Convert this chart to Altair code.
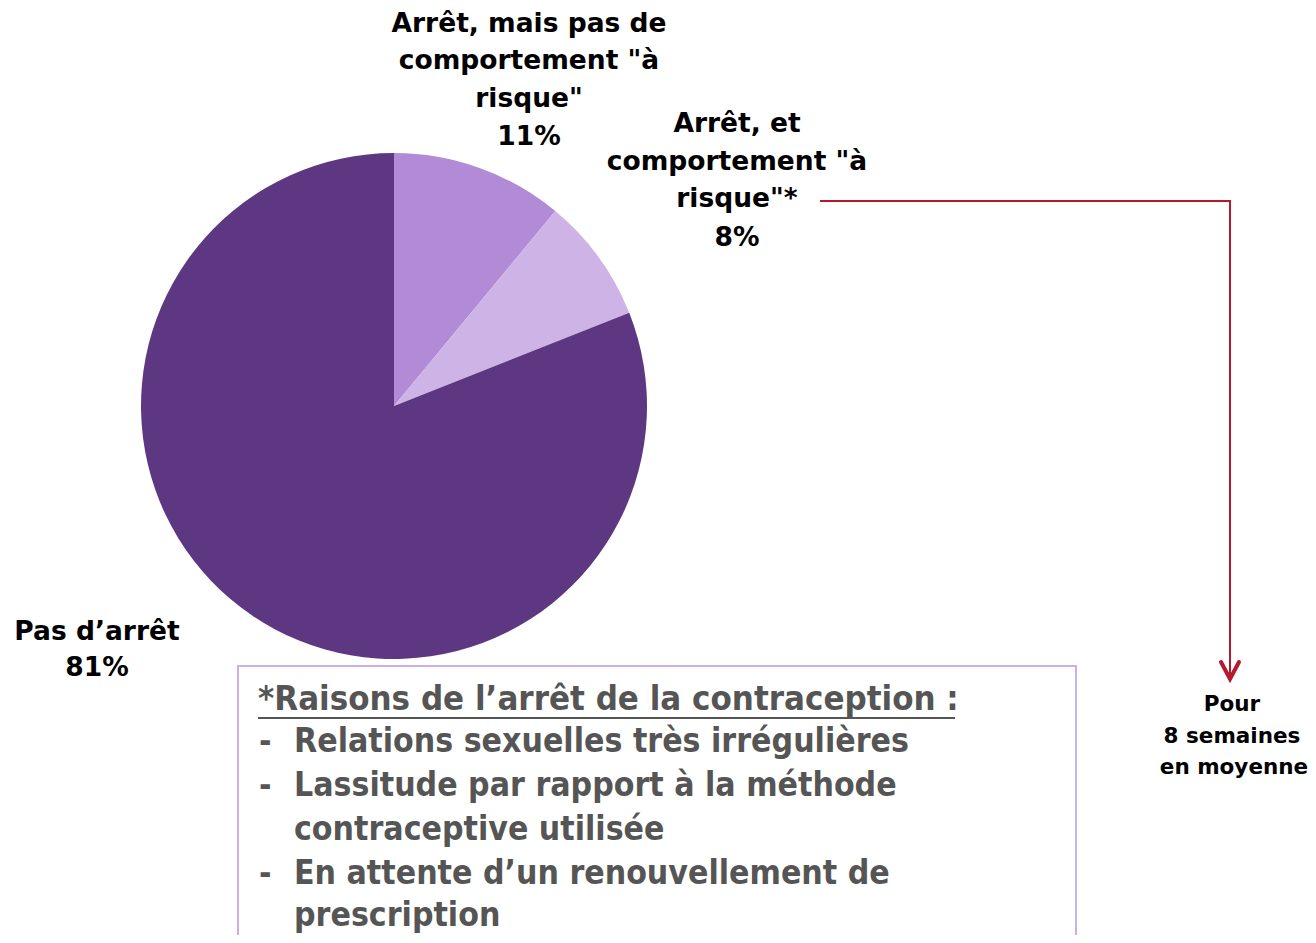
import altair as alt
import pandas as pd

# ---- data ----
categories = ["Arrêt, mais pas de comportement \"à risque\"", "Arrêt, et comportement \"à risque\"*", "Pas d'arrêt"]
values = [11, 8, 81]
colors = ["#B28BD7", "#CDB3E6", "#5E3782"]

pie_label_lines = ["Arrêt, mais pas de", "comportement \"à", "risque\"", "11%",
                   "Arrêt, et", "comportement \"à", "risque\"*", "8%",
                   "Pas d\u2019arrêt", "81%"]
pie_label_x = [529, 529, 529, 529, 737, 737, 737, 737, 97, 97]
pie_label_y = [24, 61, 99, 137, 124, 162, 199, 238, 632, 668]

note_lines = ["Pour", "8 semaines", "en moyenne"]
note_x = [1232, 1232, 1234]
note_y = [705, 737, 768]

box_title = "*Raisons de l\u2019arrêt de la contraception :"
box_lines = ["Relations sexuelles très irrégulières",
             "Lassitude par rapport à la méthode",
             "contraceptive utilisée",
             "En attente d\u2019un renouvellement de",
             "prescription"]
box_line_y = [742, 786, 830, 874, 916]
box_dash = ["-", "-", "", "-", ""]

connector_x = [820, 1230, 1230]
connector_y = [201, 201, 678]
chevron_x = [1221, 1230, 1239]
chevron_y = [662, 679, 662]

W, H = 1300, 927
xs = alt.Scale(domain=[8, 8 + W], nice=False, zero=False)
ys = alt.Scale(domain=[8 + H, 8], nice=False, zero=False)

pie_df = pd.DataFrame({"cat": categories, "val": values, "order": [0, 1, 2]})
pie = alt.Chart(pie_df).mark_arc(radius=253).encode(
    theta=alt.Theta("val:Q", stack=True),
    order=alt.Order("order:Q"),
    color=alt.Color("cat:N", scale=alt.Scale(domain=categories, range=colors), legend=None),
    x=alt.value(394 - 8),
    y=alt.value(406 - 8),
)

lbl_df = pd.DataFrame({"t": pie_label_lines, "x": pie_label_x, "y": pie_label_y})
labels = alt.Chart(lbl_df).mark_text(
    font="DejaVu Sans", fontWeight="bold", fontSize=26.5, color="#000000",
    align="center", baseline="middle"
).encode(x=alt.X("x:Q", scale=xs, axis=None), y=alt.Y("y:Q", scale=ys, axis=None), text="t:N")

note_df = pd.DataFrame({"t": note_lines, "x": note_x, "y": note_y})
note = alt.Chart(note_df).mark_text(
    font="DejaVu Sans", fontWeight="bold", fontSize=21.5, color="#000000",
    align="center", baseline="middle"
).encode(x=alt.X("x:Q", scale=xs, axis=None), y=alt.Y("y:Q", scale=ys, axis=None), text="t:N")

conn_df = pd.DataFrame({"x": connector_x, "y": connector_y, "i": [0, 1, 2]})
conn = alt.Chart(conn_df).mark_line(color="#B5192E", strokeWidth=2).encode(
    x=alt.X("x:Q", scale=xs, axis=None), y=alt.Y("y:Q", scale=ys, axis=None), order="i:Q")
chev_df = pd.DataFrame({"x": chevron_x, "y": chevron_y, "i": [0, 1, 2]})
chev = alt.Chart(chev_df).mark_line(color="#B5192E", strokeWidth=4, strokeCap="round", strokeJoin="miter").encode(
    x=alt.X("x:Q", scale=xs, axis=None), y=alt.Y("y:Q", scale=ys, axis=None), order="i:Q")

# box
box_df = pd.DataFrame({"x": [238], "x2": [1076], "y": [666], "y2": [960]})
box = alt.Chart(box_df).mark_rect(fill="#FFFFFF", stroke="#C9B0E8", strokeWidth=2).encode(
    x=alt.X("x:Q", scale=xs, axis=None), x2="x2:Q",
    y=alt.Y("y:Q", scale=ys, axis=None), y2="y2:Q")

boxfont = "Liberation Sans Narrow, DejaVu Sans Condensed, Roboto Condensed, Roboto, sans-serif"
title_df = pd.DataFrame({"t": [box_title], "x": [258], "y": [700]})
btitle = alt.Chart(title_df).mark_text(
    font=boxfont, fontWeight="bold", fontSize=34.5, color="#555555", align="left", baseline="middle"
).encode(x=alt.X("x:Q", scale=xs, axis=None), y=alt.Y("y:Q", scale=ys, axis=None), text="t:N")

ul_df = pd.DataFrame({"x": [258], "x2": [955], "y": [718]})
underline = alt.Chart(ul_df).mark_rule(color="#555555", strokeWidth=2).encode(
    x=alt.X("x:Q", scale=xs, axis=None), x2="x2:Q", y=alt.Y("y:Q", scale=ys, axis=None))

bl_df = pd.DataFrame({"t": box_lines, "x": [294] * 5, "y": box_line_y})
blines = alt.Chart(bl_df).mark_text(
    font=boxfont, fontWeight="bold", fontSize=33.5, color="#555555", align="left", baseline="middle"
).encode(x=alt.X("x:Q", scale=xs, axis=None), y=alt.Y("y:Q", scale=ys, axis=None), text="t:N")

bd_df = pd.DataFrame({"t": box_dash, "x": [259] * 5, "y": box_line_y})
bdash = alt.Chart(bd_df).mark_text(
    font=boxfont, fontWeight="bold", fontSize=33.5, color="#555555", align="left", baseline="middle"
).encode(x=alt.X("x:Q", scale=xs, axis=None), y=alt.Y("y:Q", scale=ys, axis=None), text="t:N")

chart = alt.layer(pie, labels, conn, chev, note, box, btitle, underline, blines, bdash).properties(
    width=W, height=H, autosize=alt.AutoSizeParams(type="none"), padding=0, background="#FFFFFF"
).configure_view(stroke=None)

chart.save("out.html", embed_options={"renderer": "svg", "actions": False})
